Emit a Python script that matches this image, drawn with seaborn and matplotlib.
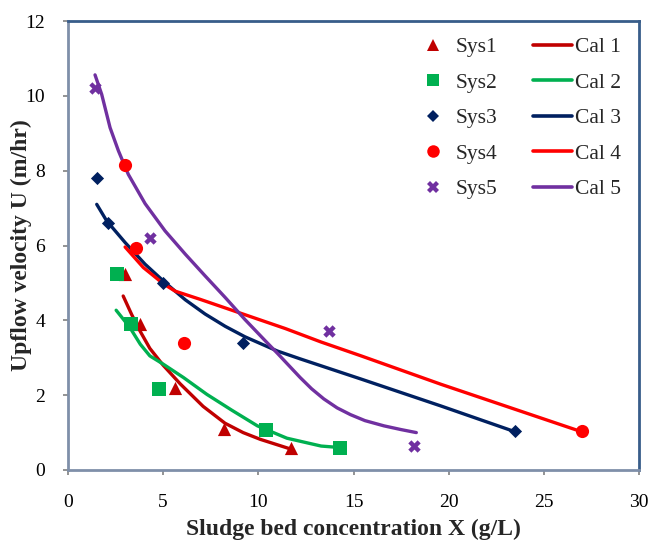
import matplotlib
matplotlib.use("Agg")
import matplotlib.pyplot as plt
import seaborn as sns
from matplotlib.lines import Line2D

# ---------------- data ----------------
sys1_x = [3.0, 3.8, 5.6, 8.2, 11.7]
sys1_y = [5.25, 3.9, 2.2, 1.1, 0.6]
sys2_x = [2.6, 3.3, 4.8, 10.4, 14.3]
sys2_y = [5.25, 3.9, 2.17, 1.07, 0.6]
sys3_x = [1.5, 2.1, 5.0, 9.2, 23.5]
sys3_y = [7.8, 6.6, 5.0, 3.4, 1.05]
sys4_x = [3.0, 3.55, 6.1, 27.0]
sys4_y = [8.15, 5.93, 3.4, 1.05]
sys5_x = [1.4, 4.3, 13.7, 18.2]
sys5_y = [10.2, 6.2, 3.72, 0.63]

cal1_x = [2.9, 3.35, 3.8, 4.3, 5.0, 5.9, 7.1, 8.25, 9.2, 10.1, 11.7]
cal1_y = [4.65, 4.15, 3.7, 3.25, 2.8, 2.3, 1.7, 1.25, 1.0, 0.82, 0.56]
cal2_x = [2.53, 3.0, 3.26, 3.8, 4.3, 5.0, 6.07, 7.3, 8.6, 9.95, 11.5, 13.3, 14.3]
cal2_y = [4.27, 3.97, 3.8, 3.36, 3.05, 2.83, 2.47, 2.02, 1.6, 1.18, 0.85, 0.64, 0.6]
cal3_x = [1.51, 2.03, 3.0, 4.05, 5.1, 6.16, 7.2, 8.26, 9.3, 11.0, 12.2, 15.4, 19.6, 23.5]
cal3_y = [7.1, 6.66, 6.08, 5.5, 5.01, 4.55, 4.17, 3.84, 3.56, 3.18, 2.97, 2.43, 1.71, 1.02]
cal4_x = [3.0, 3.96, 4.4, 5.0, 5.63, 6.95, 9.3, 11.42, 13.3, 15.4, 19.6, 27.0]
cal4_y = [5.96, 5.41, 5.23, 4.98, 4.78, 4.56, 4.15, 3.78, 3.42, 3.05, 2.29, 1.02]
cal5_x = [1.42, 1.77, 2.21, 2.65, 3.17, 4.05, 5.1, 6.16, 7.2, 8.26, 9.3, 10.37,
          11.0, 12.2, 12.8, 13.44, 14.14, 14.84, 15.6, 16.6, 17.5, 18.3]
cal5_y = [10.56, 10.04, 9.15, 8.53, 7.9, 7.12, 6.39, 5.77, 5.19, 4.61, 4.02, 3.45,
          3.12, 2.47, 2.17, 1.9, 1.66, 1.48, 1.32, 1.18, 1.08, 1.0]

sys_labels = ["Sys1", "Sys2", "Sys3", "Sys4", "Sys5"]
cal_labels = ["Cal 1", "Cal 2", "Cal 3", "Cal 4", "Cal 5"]
colors = ["#C00000", "#00B050", "#002060", "#FF0000", "#7030A0"]
x_ticks = [0, 5, 10, 15, 20, 25, 30]
y_ticks = [0, 2, 4, 6, 8, 10, 12]
x_label = "Sludge bed concentration X (g/L)"
y_label = "Upflow velocity U (m/hr)"

# ---------------- styling ----------------
sns.set_theme(style="white")
plt.rcParams["font.family"] = ["Liberation Serif", "DejaVu Serif"]

fig = plt.figure(figsize=(6.51, 5.41), dpi=100)
ax = fig.add_axes([68 / 651, 1 - 470 / 541, (639 - 68) / 651, (470 - 21) / 541])

sys_x = [sys1_x, sys2_x, sys3_x, sys4_x, sys5_x]
sys_y = [sys1_y, sys2_y, sys3_y, sys4_y, sys5_y]
cal_x = [cal1_x, cal2_x, cal3_x, cal4_x, cal5_x]
cal_y = [cal1_y, cal2_y, cal3_y, cal4_y, cal5_y]
markers = ["^", "s", "D", "o", "X"]
sizes = [90, 90, 45, 90, 80]

for cx, cy, c in zip(cal_x, cal_y, colors):
    sns.lineplot(x=cx, y=cy, color=c, linewidth=2.4, sort=False,
                 estimator=None, ax=ax, zorder=2)

for sx, sy, c, m, s in zip(sys_x, sys_y, colors, markers, sizes):
    sns.scatterplot(x=sx, y=sy, color=c, marker=m, s=s, linewidth=0,
                    ax=ax, zorder=3)

ax.set_xlim(0, 30)
ax.set_ylim(0, 12)
ax.set_xticks(x_ticks)
ax.set_yticks(y_ticks)
ax.tick_params(axis="both", which="both", direction="out", length=3.6,
               width=1.2, color="#808080", labelsize=14,
               labelcolor="black")
ax.tick_params(axis="x", pad=13.4)
ax.tick_params(axis="y", pad=13)
ax.tick_params(bottom=True, left=True)

for side in ["left", "bottom"]:
    ax.spines[side].set_color("#7F8FA9")
    ax.spines[side].set_linewidth(2)
for side in ["top", "right"]:
    ax.spines[side].set_color("#385D8A")
    ax.spines[side].set_linewidth(2)

ax.set_xlabel(x_label, fontsize=17, fontweight="bold", labelpad=6)
ax.set_ylabel(y_label, fontsize=17, fontweight="bold")
ax.yaxis.set_label_coords((32 - 68) / 571, 0.5)

handles = []
labels = []
for lab, c, m in zip(sys_labels, colors, markers):
    ms = 9 if m != "D" else 6.5
    handles.append(Line2D([], [], linestyle="none", marker=m, color=c,
                          markersize=ms, markeredgewidth=0))
    labels.append(lab)
for lab, c in zip(cal_labels, colors):
    handles.append(Line2D([], [], color=c, linewidth=2.6))
    labels.append(lab)

fig.legend(handles, labels, ncol=2, loc="upper left",
           bbox_to_anchor=(413.6 / 651, 1 - 37 / 541),
           bbox_transform=fig.transFigure, frameon=False,
           fontsize=15.5, handlelength=1.8, handletextpad=0.13,
           labelspacing=0.72, columnspacing=1.7, borderpad=0,
           borderaxespad=0)

fig.savefig("out.png", dpi=100)
